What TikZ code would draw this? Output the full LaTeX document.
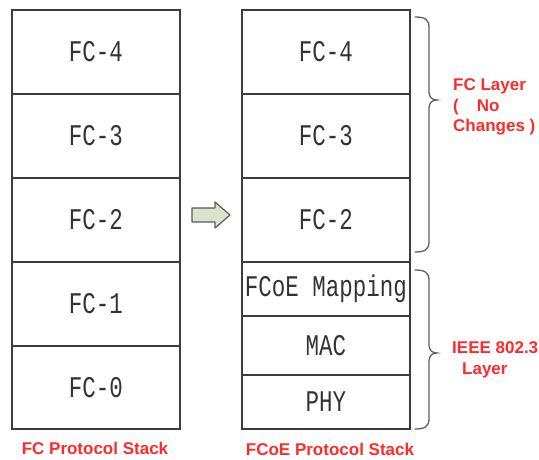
\documentclass[tikz,border=0pt]{standalone}
\usepackage{fontspec}
\newfontfamily\boxfont[FakeStretch=0.75]{Liberation Mono}
\newfontfamily\lblfont{Liberation Sans}
\definecolor{linegray}{HTML}{3C3C3C}
\definecolor{textgray}{HTML}{333333}
\definecolor{lblred}{HTML}{FF2B2B}
\definecolor{bracegray}{HTML}{606060}
\definecolor{arrowfill}{HTML}{DCE3CC}
\definecolor{arrowline}{HTML}{5A5A5A}
\begin{document}
\begin{tikzpicture}[x=1pt,y=-1pt,
  layer/.style={draw=linegray, line width=1.3pt, minimum width=168pt, inner sep=0pt, outer sep=0pt,
    anchor=north west, text=textgray, font=\boxfont\fontsize{30}{30}\selectfont},
  redlbl/.style={text=lblred, inner sep=0pt, font=\lblfont\bfseries\fontsize{17}{20.5}\selectfont},
  bracestyle/.style={draw=bracegray, line width=1.3pt, line cap=round}]
\useasboundingbox (0,0) rectangle (539,459);
% left stack
\node[layer, minimum height=84pt] (l4) at (12,10) {FC-4};
\node[layer, minimum height=84pt] (l3) at (12,94) {FC-3};
\node[layer, minimum height=84pt] (l2) at (12,178) {FC-2};
\node[layer, minimum height=84pt] (l1) at (12,262) {FC-1};
\node[layer, minimum height=83pt] (l0) at (12,346) {FC-0};
% right stack
\node[layer, minimum height=84pt] (r4) at (242,10) {FC-4};
\node[layer, minimum height=84pt] (r3) at (242,94) {FC-3};
\node[layer, minimum height=84pt] (r2) at (242,178) {FC-2};
\node[layer, minimum height=54pt] (rmap) at (242,262) {FCoE Mapping};
\node[layer, minimum height=59pt] (rmac) at (242,316) {MAC};
\node[layer, minimum height=54pt] (rphy) at (242,375) {PHY};
% captions
\node[redlbl] (lcap) at (95,448) {FC Protocol Stack};
\node[redlbl] (rcap) at (330,449) {FCoE Protocol Stack};
% arrow
\draw[fill=arrowfill, draw=arrowline, line width=1.2pt, line join=round]
  (192,208) -- (215,208) -- (215,202) -- (230,215) -- (215,228) -- (215,222) -- (192,222) -- cycle;
% brace 1
\draw[bracestyle] (415,17) .. controls (424,17) and (429,19) .. (429,27) -- (429,92)
  .. controls (429,97) and (432,100) .. (437,100) .. controls (432,100) and (429,103) .. (429,108)
  -- (429,242) .. controls (429,250) and (424,252) .. (415,252);
% brace 2
\draw[bracestyle] (415,270) .. controls (424,270) and (429,272) .. (429,280) -- (429,345)
  .. controls (429,350) and (432,353) .. (437,353) .. controls (432,353) and (429,356) .. (429,361)
  -- (429,419) .. controls (429,427) and (424,429) .. (415,429);
% labels
\node[redlbl, align=left, anchor=west] (fclbl) at (453,107) {FC Layer\\(\hspace*{18pt}No\\Changes )};
\node[redlbl, align=left, anchor=west] (ieeelbl) at (452,360) {IEEE 802.3\\\hspace*{10pt}Layer};
\end{tikzpicture}
\end{document}
